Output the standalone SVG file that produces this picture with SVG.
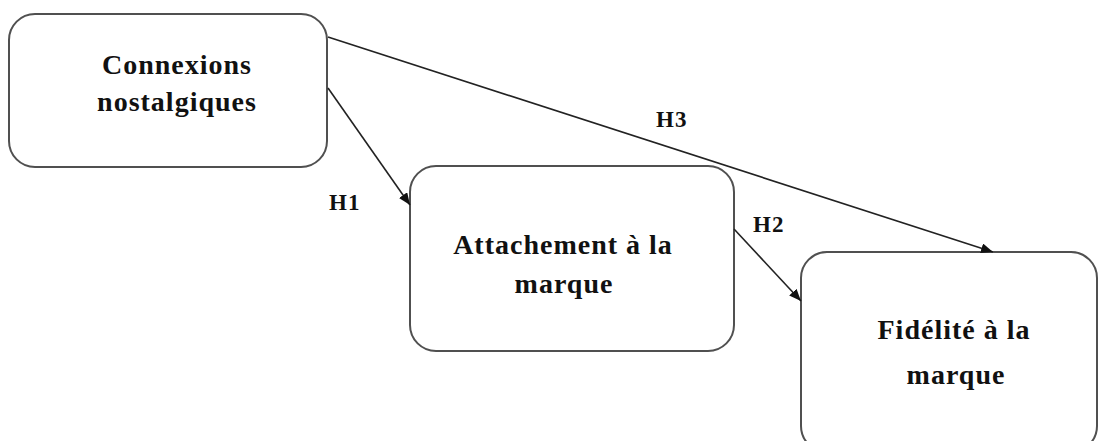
<svg xmlns="http://www.w3.org/2000/svg" width="1099" height="441" viewBox="0 0 1099 441">
  <style>
    .box { fill: #ffffff; stroke: #505050; stroke-width: 2; }
    .t { font-family: "Liberation Serif", "Times New Roman", serif; font-weight: bold; font-size: 28px; letter-spacing: 1px; fill: #111111; text-anchor: middle; }
    .lbl { font-family: "Liberation Serif", "Times New Roman", serif; font-weight: bold; font-size: 23px; letter-spacing: 1px; fill: #111111; }
    .edge { stroke: #222222; stroke-width: 1.6; fill: none; marker-end: url(#arrow); }
  </style>
  <defs>
    <marker id="arrow" viewBox="0 0 12 10" refX="12" refY="5" markerWidth="12" markerHeight="10" markerUnits="userSpaceOnUse" orient="auto">
      <path d="M0,0 L12,5 L0,10 z" fill="#111111"/>
    </marker>
  </defs>
  <rect width="1099" height="441" fill="#ffffff"/>
  <g id="node-connexions">
    <rect class="box" x="9" y="14" width="318" height="153" rx="26" ry="26"/>
    <text class="t" x="177" y="74">Connexions</text>
    <text class="t" x="177" y="111">nostalgiques</text>
  </g>
  <g id="node-attachement">
    <rect class="box" x="410" y="166" width="324" height="185" rx="26" ry="26"/>
    <text class="t" x="563" y="254">Attachement à la</text>
    <text class="t" x="564" y="293">marque</text>
  </g>
  <g id="node-fidelite">
    <rect class="box" x="801" y="252" width="296" height="200" rx="26" ry="26"/>
    <text class="t" x="954" y="339">Fidélité à la</text>
    <text class="t" x="956" y="384">marque</text>
  </g>
  <g id="connectors">
    <line class="edge" x1="328" y1="88" x2="410" y2="205"/>
    <line class="edge" x1="328" y1="37" x2="993" y2="252"/>
    <line class="edge" x1="734" y1="229" x2="801" y2="301"/>
  </g>
  <g id="labels">
    <text class="lbl" x="329" y="210">H1</text>
    <text class="lbl" x="753" y="232">H2</text>
    <text class="lbl" x="656" y="127">H3</text>
  </g>
</svg>
